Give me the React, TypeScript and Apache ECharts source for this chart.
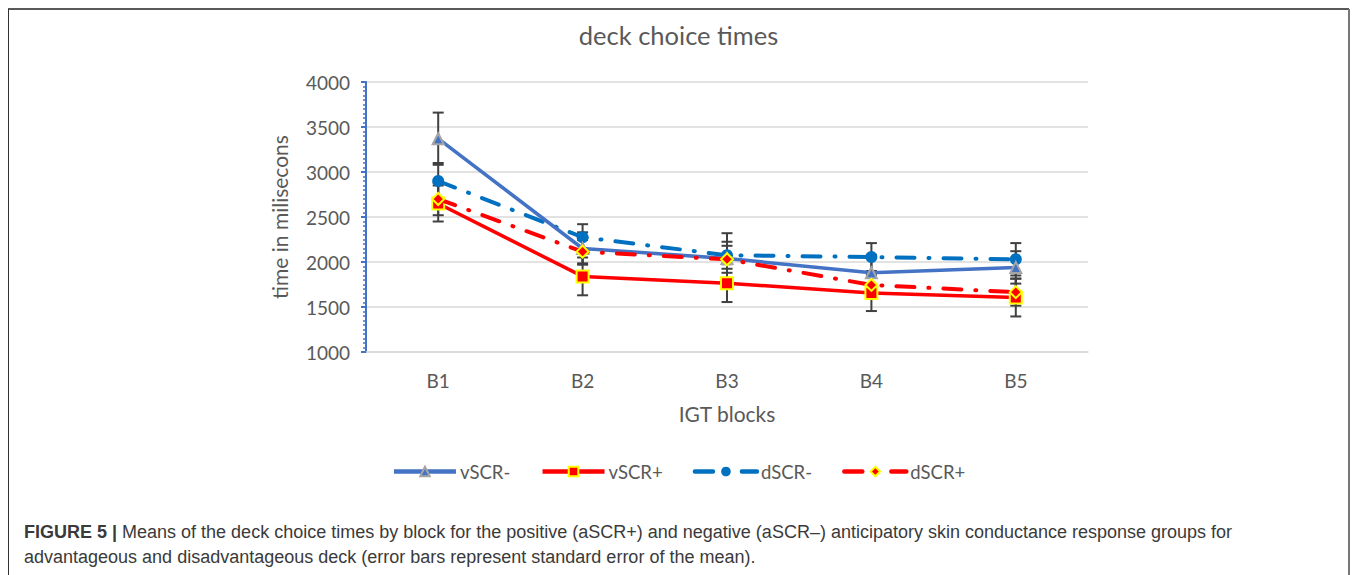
import React, { useEffect, useRef } from "react";
import * as echarts from "echarts";

const categories = ["B1", "B2", "B3", "B4", "B5"];
const seriesNames = ["vSCR-", "vSCR+", "dSCR-", "dSCR+"];
const vSCRminus = [3370, 2150, 2040, 1880, 1940];
const vSCRplus = [2650, 1840, 1765, 1655, 1605];
const dSCRminus = [2900, 2275, 2075, 2055, 2030];
const dSCRplus = [2700, 2115, 2030, 1745, 1665];
const seVminus = [290, 180, 280, 200, 180];
const seVplus = [200, 210, 210, 200, 210];
const seDminus = [200, 145, 150, 155, 180];
const seDplus = [180, 130, 150, 150, 150];
const yTicks = { min: 1000, max: 4000, interval: 500 };

const FONT = "Lato";

function errData(means: number[], se: number[]) {
  return means.map((m, i) => [i, m - se[i], m + se[i]]);
}

function errSeries(means: number[], se: number[], name: string) {
  return {
    type: "custom",
    name: name + " err",
    z: 1,
    silent: true,
    data: errData(means, se),
    renderItem: (params: any, api: any) => {
      const x = api.value(0);
      const lo = api.coord([x, api.value(1)]);
      const hi = api.coord([x, api.value(2)]);
      const w = 5.5;
      const style = { stroke: "#404040", lineWidth: 2 };
      return {
        type: "group",
        children: [
          { type: "line", shape: { x1: lo[0], y1: lo[1], x2: hi[0], y2: hi[1] }, style },
          { type: "line", shape: { x1: lo[0] - w, y1: lo[1], x2: lo[0] + w, y2: lo[1] }, style },
          { type: "line", shape: { x1: hi[0] - w, y1: hi[1], x2: hi[0] + w, y2: hi[1] }, style },
        ],
      };
    },
  };
}

export default function App() {
  const ref = useRef<HTMLDivElement>(null);
  useEffect(() => {
    if (!ref.current) return;
    const chart = echarts.init(ref.current, null, { renderer: "svg" });
    const dashDot = [18, 14, 1, 14];
    chart.setOption({
      animation: false,
      backgroundColor: "#ffffff",
      title: {
        text: "deck choice times",
        left: "center",
        top: 17,
        textStyle: { fontFamily: FONT, fontSize: 25.5, fontWeight: "normal", color: "#595959" },
      },
      legend: {
        data: seriesNames,
        bottom: 89,
        left: "center",
        itemWidth: 62,
        itemHeight: 12,
        itemGap: 30,
        lineStyle: { width: 4.5 },
        textStyle: { fontFamily: FONT, fontSize: 18.5, color: "#595959", padding: [0, 0, 0, -1] },
      },
      grid: { left: 366, right: 269, top: 82, bottom: 223, containLabel: false },
      xAxis: {
        type: "category",
        data: categories,
        boundaryGap: true,
        name: "IGT blocks",
        nameLocation: "middle",
        nameGap: 51,
        nameTextStyle: { fontFamily: FONT, fontSize: 21, color: "#595959" },
        axisLine: { show: true, lineStyle: { color: "#D9D9D9", width: 1.5 } },
        axisTick: { show: false },
        axisLabel: { fontFamily: FONT, fontSize: 19, color: "#595959", margin: 19 },
      },
      yAxis: {
        type: "value",
        min: yTicks.min,
        max: yTicks.max,
        interval: yTicks.interval,
        name: "time in milisecons",
        nameLocation: "middle",
        nameGap: 76,
        nameTextStyle: { fontFamily: FONT, fontSize: 21, color: "#595959" },
        axisLine: { show: true, lineStyle: { color: "#4472C4", width: 2 } },
        axisTick: { show: true, length: 5, lineStyle: { color: "#4472C4", width: 2 } },
        minorTick: { show: true, splitNumber: 10, length: 3, lineStyle: { color: "#4472C4", width: 1.5 } },
        splitLine: { show: true, lineStyle: { color: "#D9D9D9", width: 1.5 } },
        axisLabel: {
          fontFamily: FONT,
          fontSize: 19,
          color: "#595959",
          margin: 16,
          formatter: (v: number) => String(v),
        },
      },
      series: [
        errSeries(vSCRminus, seVminus, "vSCR-"),
        errSeries(vSCRplus, seVplus, "vSCR+"),
        errSeries(dSCRminus, seDminus, "dSCR-"),
        errSeries(dSCRplus, seDplus, "dSCR+"),
        {
          type: "line",
          name: "vSCR-",
          data: vSCRminus,
          z: 3,
          symbol: "triangle",
          symbolSize: 11,
          lineStyle: { color: "#4472C4", width: 3.5 },
          itemStyle: { color: "#4472C4", borderColor: "#A5A5A5", borderWidth: 2 },
        },
        {
          type: "line",
          name: "vSCR+",
          data: vSCRplus,
          z: 3,
          symbol: "rect",
          symbolSize: 12,
          lineStyle: { color: "#FF0000", width: 3.5 },
          itemStyle: { color: "#FF0000", borderColor: "#FFFF00", borderWidth: 2 },
        },
        {
          type: "line",
          name: "dSCR-",
          data: dSCRminus,
          z: 2,
          symbol: "circle",
          symbolSize: 12,
          lineStyle: { color: "#0070C0", width: 4, type: dashDot, cap: "round" },
          itemStyle: { color: "#0070C0" },
        },
        {
          type: "line",
          name: "dSCR+",
          data: dSCRplus,
          z: 4,
          symbol: "diamond",
          symbolSize: 12,
          lineStyle: { color: "#FF0000", width: 4, type: dashDot, cap: "round" },
          itemStyle: { color: "#FF0000", borderColor: "#FFFF00", borderWidth: 2 },
        },
      ],
      graphic: [
        { type: "line", shape: { x1: 8, y1: 9, x2: 1349, y2: 9 }, style: { stroke: "#222", lineWidth: 1.5 } },
        { type: "line", shape: { x1: 8.5, y1: 9, x2: 8.5, y2: 575 }, style: { stroke: "#333", lineWidth: 1 } },
        { type: "line", shape: { x1: 1349, y1: 9, x2: 1349, y2: 575 }, style: { stroke: "#777", lineWidth: 2 } },
        {
          type: "text",
          left: 24,
          top: 523,
          style: {
            text: "{b|FIGURE 5 |} Means of the deck choice times by block for the positive (aSCR+) and negative (aSCR\u2013) anticipatory skin conductance response groups for",
            fontFamily: "Liberation Sans",
            fontSize: 18,
            fill: "#3a3a3a",
            rich: { b: { fontFamily: "Liberation Sans", fontSize: 18, fontWeight: "bold", fill: "#3a3a3a" } },
          },
        },
        {
          type: "text",
          left: 24,
          top: 548,
          style: {
            text: "advantageous and disadvantageous deck (error bars represent standard error of the mean).",
            fontFamily: "Liberation Sans",
            fontSize: 18,
            fill: "#3a3a3a",
          },
        },
      ],
    });
    return () => chart.dispose();
  }, []);
  return (
    <div
      ref={ref}
      style={{ position: "absolute", left: 0, top: 0, width: 1357, height: 575 }}
    />
  );
}
